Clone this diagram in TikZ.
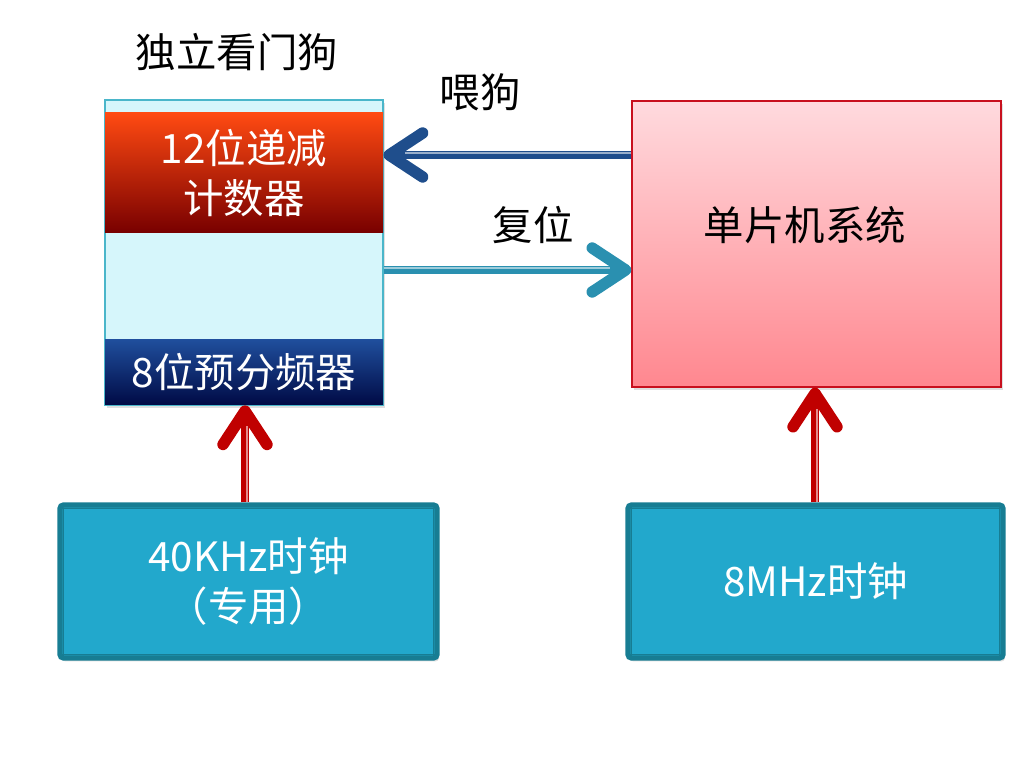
\documentclass[tikz,border=0pt]{standalone}
\usepackage{fontspec}
\setmainfont{Noto Sans CJK SC}
\usetikzlibrary{arrows.meta,shadows}

\definecolor{wdgfill}{HTML}{D6F6FB}
\definecolor{wdgline}{HTML}{4AB6CA}
\definecolor{cnttop}{HTML}{FF4A12}
\definecolor{cntbot}{HTML}{780000}
\definecolor{pretop}{HTML}{1F4E9C}
\definecolor{prebot}{HTML}{000A45}
\definecolor{systop}{HTML}{FFDADE}
\definecolor{sysbot}{HTML}{FF878F}
\definecolor{sysline}{HTML}{C8101E}
\definecolor{clkfill}{HTML}{22A8CC}
\definecolor{clkline}{HTML}{177D93}
\definecolor{feedcol}{HTML}{1F4E8C}
\definecolor{rstcol}{HTML}{2A90B0}
\definecolor{clkarrow}{HTML}{C00000}

\tikzset{
  every node/.style={font=\fontsize{23}{28}\selectfont},
  block/.style={inner sep=0pt, align=center, drop shadow={opacity=.25,shadow xshift=.04cm,shadow yshift=-.07cm}},
  clkbox/.style={block, fill=clkfill, draw=clkline, line width=3pt, rounded corners=2pt, text=white,
    minimum width=7.5cm, minimum height=3.06cm},
  sig/.style={line width=4.5pt, -{Straight Barb[length=19pt,width=25pt,line width=6.5pt,round]}},
  glint/.style={line width=.8pt, white, opacity=.55, shorten >=12pt},
}

\begin{document}
\begin{tikzpicture}
    \useasboundingbox (0,0) rectangle (20.4,15.56);

    % watchdog block
    \node at (4.74,14.52) {独立看门狗};
    \node[block, fill=wdgfill, draw=wdgline, line width=.6pt, minimum width=5.56cm, minimum height=6.1cm] (wdg) at (4.88,10.51) {};
    \node[inner sep=0pt, align=center, text=white, top color=cnttop, bottom color=cntbot,
      minimum width=5.56cm, minimum height=2.4cm] (cnt) at (4.88,12.1) {12位递减\\计数器};
    \node[inner sep=0pt, text=white, top color=pretop, bottom color=prebot,
      minimum width=5.56cm, minimum height=1.3cm] (pre) at (4.88,8.11) {8位预分频器};

    % MCU block
    \node[block, top color=systop, bottom color=sysbot, draw=sysline, line width=.8pt,
      minimum width=7.38cm, minimum height=5.72cm] (sys) at (16.33,10.68) {};
    \node (systxt) at (16.1,11.06) {单片机系统};

    % clocks
    \node[clkbox, minimum width=7.54cm] (clk40) at (4.97,3.93) {40KHz时钟\\（专用）};
    \node[clkbox] (clk8) at (16.31,3.93) {8MHz时钟};
    \draw[clkline, line width=.6pt] ([shift={(.13,.13)}]clk40.south west) rectangle ([shift={(-.13,-.13)}]clk40.north east);
    \draw[clkline, line width=.6pt] ([shift={(.13,.13)}]clk8.south west) rectangle ([shift={(-.13,-.13)}]clk8.north east);

    % feed and reset
    \node (feed) at (9.6,13.72) {喂狗};
    \draw[sig, feedcol] (sys.west |- 0,12.46) -- (wdg.east |- 0,12.46);
    \draw[glint] (sys.west |- 0,12.50) -- (wdg.east |- 0,12.50);
    \node (rst) at (10.66,11.06) {复位};
    \draw[sig, rstcol] (wdg.east |- 0,10.16) -- (sys.west |- 0,10.16);
    \draw[glint] (wdg.east |- 0,10.20) -- (sys.west |- 0,10.20);

    % clock inputs
    \draw[sig, clkarrow] (clk40.north -| 4.9,0) -- (pre.south -| 4.9,0);
    \draw[glint] (clk40.north -| 4.94,0) -- (pre.south -| 4.94,0);
    \draw[sig, clkarrow] (clk8.north -| 16.3,0) -- (sys.south -| 16.3,0);
    \draw[glint] (clk8.north -| 16.34,0) -- (sys.south -| 16.34,0);
\end{tikzpicture}
\end{document}
